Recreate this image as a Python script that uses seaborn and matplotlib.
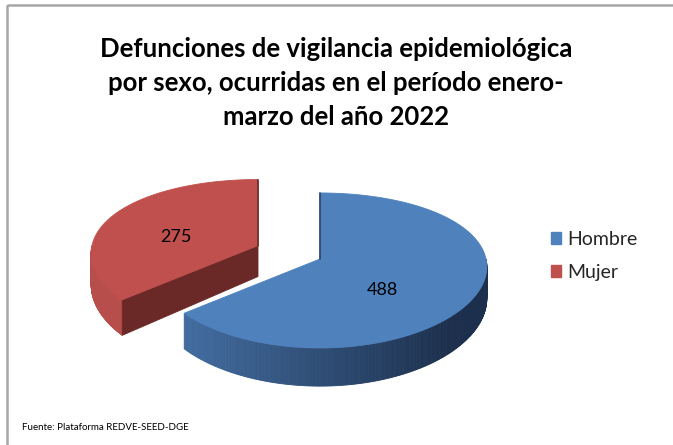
import numpy as np
import matplotlib
matplotlib.use("Agg")
import matplotlib.pyplot as plt
import matplotlib.colors as mcolors
from matplotlib.patches import Polygon, Rectangle, Patch
import seaborn as sns

# ---------------- data ----------------
categories = ["Hombre", "Mujer"]
values = [488, 275]
top_colors = ["#4f81bd", "#c0504d"]
title_lines = [
    "Defunciones de vigilancia epidemiológica",
    "por sexo, ocurridas en el período enero-",
    "marzo del año 2022",
]
source_text = "Fuente: Plataforma REDVE-SEED-DGE"

# ---------------- style ----------------
sns.set_theme(style="white")
plt.rcParams["font.family"] = ["Lato", "DejaVu Sans"]
palette = sns.color_palette(top_colors)

W, H = 673, 445
fig = plt.figure(figsize=(W / 100, H / 100), dpi=100)
ax = fig.add_axes([0, 0, 1, 1])
ax.set_xlim(0, W)
ax.set_ylim(H, 0)
ax.axis("off")

# pie geometry (pixel space, y downward) with a mild perspective
CX, CY = 320, 259
RX, RY = 166, 77.5
KX, KY = 0.1, 0.148
DEPTH, KD = 31, 0.23
explode = [0.0, 0.42]
side_grad = [("#4673aa", "#1c2f4c"), ("#b84e4b", "#8e3a38")]
cut_colors = ["#2a4468", "#6a2927"]


def proj(u, v, z=0.0):
    """disk coords (u, v) in unit circle, z in [0, 1] downwards -> pixel coords"""
    w = -np.asarray(v)  # toward the viewer
    x = CX + RX * np.asarray(u) * (1 + KX * w)
    y = CY + RY * w * (1 + KY * w) + z * DEPTH * (1 + KD * w)
    return x, y


total = float(sum(values))
start = 90.0
cum = 0.0
slices = []
for i, v in enumerate(values):
    frac = v / total
    hi = start - cum * 360.0
    lo = start - (cum + frac) * 360.0
    cum += frac
    mid = np.radians((lo + hi) / 2)
    ox, oy = proj(explode[i] * np.cos(mid), explode[i] * np.sin(mid))
    slices.append((lo, hi, ox - CX, oy - CY, mid))


def rim(dx, dy, th, z=0.0):
    r = np.radians(th)
    x, y = proj(np.cos(r), np.sin(r), z)
    return x + dx, y + dy


order = sorted(range(len(values)), key=lambda k: slices[k][3])
for i in order:
    lo, hi, dx, dy, mid = slices[i]
    c0 = np.array(mcolors.to_rgb(side_grad[i][0]))
    c1 = np.array(mcolors.to_rgb(side_grad[i][1]))
    # outer visible side (front half)
    ths = np.linspace(lo, hi, 400)
    vis = np.sin(np.radians(ths)) < 0
    idx = np.where(vis)[0]
    for a, b in zip(idx[:-1], idx[1:]):
        if b != a + 1:
            continue
        x1, y1 = rim(dx, dy, ths[a])
        x2, y2 = rim(dx, dy, ths[b])
        x3, y3 = rim(dx, dy, ths[b], 1)
        x4, y4 = rim(dx, dy, ths[a], 1)
        t = np.clip(((x1 + x2) / 2 - (CX - RX)) / (2 * RX * 0.9), 0, 1)
        col = c0 * (1 - t) + c1 * t
        ax.add_patch(Polygon([(x1, y1), (x2, y2), (x3, y3), (x4, y4)],
                             closed=True, facecolor=col, edgecolor=col, linewidth=0.6))
    # cut faces
    cx0, cy0 = proj(0, 0)
    cx1, cy1 = proj(0, 0, 1)
    cx0, cy0, cx1, cy1 = cx0 + dx, cy0 + dy, cx1 + dx, cy1 + dy
    for edge, normal in ((lo, lo - 90), (hi, hi + 90)):
        s = np.sin(np.radians(normal))
        ex0, ey0 = rim(dx, dy, edge)
        ex1, ey1 = rim(dx, dy, edge, 1)
        if s < -0.05:
            ax.add_patch(Polygon([(cx0, cy0), (ex0, ey0), (ex1, ey1), (cx1, cy1)],
                                 closed=True, facecolor=cut_colors[i], edgecolor=cut_colors[i],
                                 linewidth=0.6))
        elif abs(s) <= 0.05:
            ax.plot([cx0, ex0], [cy0, ey0], color=cut_colors[i], linewidth=1.2)
    # top face
    ths = np.linspace(lo, hi, 300)
    xs, ys = rim(dx, dy, ths)
    poly = [(cx0, cy0)] + list(zip(xs, ys))
    ax.add_patch(Polygon(poly, closed=True, facecolor=palette[i], edgecolor=palette[i],
                         linewidth=0.6))

# value labels
label_r = [0.41, 0.56]
label_dz = [0.53, 0.3]
for i, v in enumerate(values):
    lo, hi, dx, dy, mid = slices[i]
    lx, ly = proj(label_r[i] * np.cos(mid), label_r[i] * np.sin(mid), label_dz[i])
    ax.text(lx + dx, ly + dy, f"{v}", ha="center", va="center", fontsize=13, color="black")

# title
for k, line in enumerate(title_lines):
    ax.text(336, 57 + 34 * k, line, ha="center", va="baseline", fontsize=18.5,
            fontweight="bold", color="black")

# legend
handles = [Patch(facecolor=palette[i], edgecolor=palette[i]) for i in range(len(categories))]
ax.legend(handles, categories, loc="center left", bbox_to_anchor=(543 / W, 1 - 256 / H),
          frameon=False, fontsize=14, handlelength=0.55, handleheight=0.55,
          handletextpad=0.3, labelspacing=0.8, borderaxespad=0)

# source
ax.text(22, 428, source_text, ha="left", va="center", fontsize=7, color="black")

# frame
ax.add_patch(Rectangle((7, 5), 900, 900, facecolor="none", edgecolor="#a6a6a6",
                       linewidth=1.8))

fig.savefig("out.png", dpi=100)
